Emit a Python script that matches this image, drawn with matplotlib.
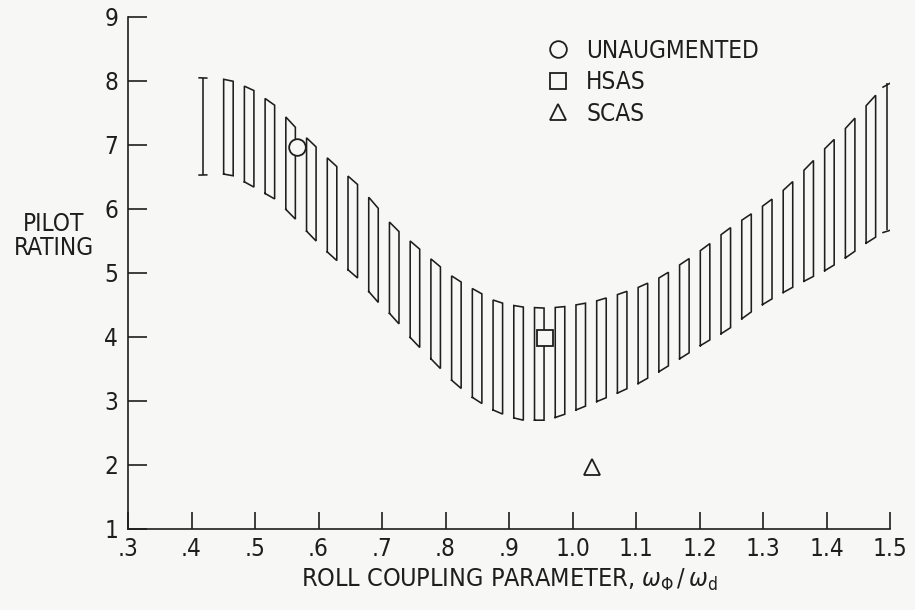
import numpy as np
import matplotlib
matplotlib.use("Agg")
import matplotlib.pyplot as plt

# ---- data ----
band_x = [0.418, 0.46, 0.497, 0.534, 0.56, 0.59, 0.622, 0.66, 0.69, 0.718, 0.748,
          0.784, 0.814, 0.847, 0.88, 0.918, 0.96, 0.993, 1.033, 1.07, 1.105, 1.14,
          1.18, 1.21, 1.243, 1.275, 1.306, 1.338, 1.37, 1.4, 1.432, 1.463, 1.495]
band_upper = [8.05, 8.02, 7.86, 7.6, 7.31, 7.03, 6.72, 6.4, 6.06, 5.72, 5.47,
              5.16, 4.92, 4.73, 4.55, 4.47, 4.45, 4.48, 4.55, 4.66, 4.78, 4.94,
              5.2, 5.41, 5.67, 5.88, 6.09, 6.34, 6.66, 6.97, 7.28, 7.62, 7.97]
band_lower = [6.53, 6.55, 6.35, 6.14, 5.88, 5.56, 5.25, 4.94, 4.58, 4.31, 3.95,
              3.59, 3.28, 3.02, 2.83, 2.70, 2.70, 2.81, 2.97, 3.12, 3.28, 3.48,
              3.73, 3.92, 4.10, 4.35, 4.55, 4.73, 4.90, 5.05, 5.25, 5.47, 5.67]

series_labels = ["UNAUGMENTED", "HSAS", "SCAS"]
series_x = [0.566, 0.957, 1.03]
series_y = [6.97, 3.98, 1.97]
series_markers = ["o", "s", "^"]

x_ticks = [0.3, 0.4, 0.5, 0.6, 0.7, 0.8, 0.9, 1.0, 1.1, 1.2, 1.3, 1.4, 1.5]
x_ticklabels = [".3", ".4", ".5", ".6", ".7", ".8", ".9", "1.0", "1.1", "1.2", "1.3", "1.4", "1.5"]
y_ticks = [1, 2, 3, 4, 5, 6, 7, 8, 9]
y_ticklabels = ["1", "2", "3", "4", "5", "6", "7", "8", "9"]

# ---- style ----
plt.rcParams["font.family"] = ["DejaVu Sans"]
plt.rcParams["font.stretch"] = "condensed"
plt.rcParams["mathtext.fontset"] = "dejavusans"

BG = "#f7f7f5"
INK = "#1e1e1e"
FS = 17.5

fig = plt.figure(figsize=(9.15, 6.1), dpi=100, facecolor=BG)
ax = fig.add_axes([128 / 915, 1 - 529 / 610, (890 - 128) / 915, (529 - 17) / 610])
ax.set_facecolor(BG)
ax.set_xlim(0.3, 1.5)
ax.set_ylim(1, 9)

# hatched band: narrow rectangles following the band boundaries
bx = np.array(band_x)
bu = np.array(band_upper)
bl = np.array(band_lower)
period = (bx[-1] - bx[0]) / 33.0
width = 0.46 * period
lw = 1.15
starts = bx[0] + period * np.arange(34)
for k, x0 in enumerate(starts):
    x1 = x0 + width
    if k == 0 or x1 > bx[-1] + 1e-9:
        xs = x0 if k == 0 else bx[-1]
        u = np.interp(xs, bx, bu)
        l = np.interp(xs, bx, bl)
        s = 0.006
        ax.plot([xs, xs], [l, u], color=INK, lw=lw, solid_capstyle="butt")
        ax.plot([xs - s, xs + s], [np.interp(xs - s, bx, bu), np.interp(xs + s, bx, bu)], color=INK, lw=lw)
        ax.plot([xs - s, xs + s], [np.interp(xs - s, bx, bl), np.interp(xs + s, bx, bl)], color=INK, lw=lw)
        continue
    xx = [x0, x0, x1, x1, x0]
    yy = [np.interp(x0, bx, bl), np.interp(x0, bx, bu), np.interp(x1, bx, bu),
          np.interp(x1, bx, bl), np.interp(x0, bx, bl)]
    ax.plot(xx, yy, color=INK, lw=lw, solid_joinstyle="miter")

# data points
for lab, x, y, m in zip(series_labels, series_x, series_y, series_markers):
    ms = {"o": 12, "s": 11, "^": 12}[m]
    ax.plot([x], [y], marker=m, linestyle="none", ms=ms, mfc=BG, mec=INK, mew=1.3,
            label=lab, zorder=5)

leg = ax.legend(loc="upper left", bbox_to_anchor=((546 - 128) / 762, 1 - (39 - 17) / 512),
                frameon=False, fontsize=FS, handlelength=1.0, handletextpad=0.65,
                labelspacing=0.3, borderpad=0, borderaxespad=0)
for t in leg.get_texts():
    t.set_color(INK)

# axes styling
for s in ["top", "right"]:
    ax.spines[s].set_visible(False)
for s in ["left", "bottom"]:
    ax.spines[s].set_color(INK)
    ax.spines[s].set_linewidth(1.2)
ax.set_xticks(x_ticks)
ax.set_xticklabels(x_ticklabels)
ax.set_yticks(y_ticks)
ax.set_yticklabels(y_ticklabels)
ax.tick_params(axis="both", direction="in", colors=INK, width=1.2, labelsize=FS)
ax.tick_params(axis="y", length=14, pad=7)
ax.tick_params(axis="x", length=12, pad=6)

ax.set_xlabel(r"ROLL COUPLING PARAMETER, $\omega_{\Phi}\,/\,\omega_{\mathrm{d}}$",
              fontsize=FS + 0.5, color=INK, labelpad=4)
fig.text(54 / 915, 1 - 236 / 610, "PILOT\nRATING", ha="center", va="center",
         fontsize=FS, color=INK, linespacing=1.05)

fig.savefig("out.png", dpi=100, facecolor=BG)
